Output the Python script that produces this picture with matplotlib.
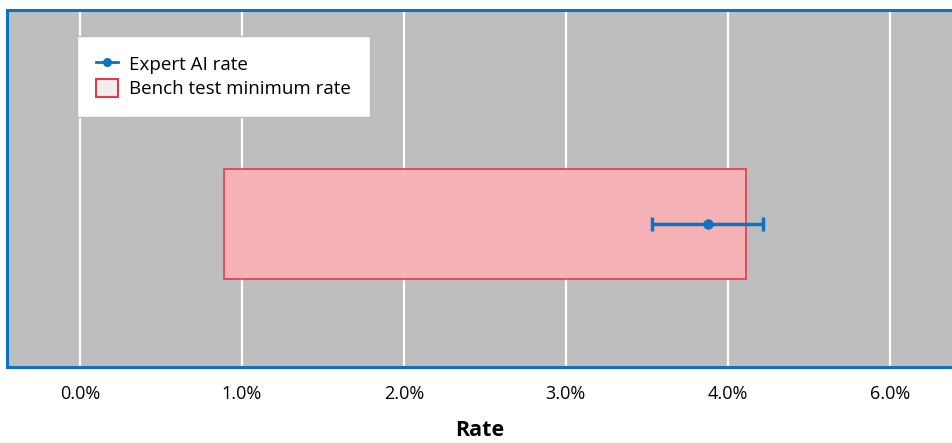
import numpy as np
import matplotlib.pyplot as plt
from matplotlib.patches import Patch
from matplotlib.lines import Line2D

# data (rates in %)
bench_min = 0.89
bench_max = 4.11
expert_rate = 3.88
expert_low = 3.53
expert_high = 4.22
tick_values = [0, 1, 2, 3, 4, 5]
tick_labels = ["0.0%", "1.0%", "2.0%", "3.0%", "4.0%", "6.0%"]

blue = "#0a74c2"
plt.rcParams['font.family'] = ['Open Sans', 'DejaVu Sans']

fig = plt.figure(figsize=(9.53, 4.43), dpi=100)
ax = fig.add_axes([0.0073, 0.1716, 0.9927, 0.806])
ax.set_facecolor("#bebebe")

ax.barh(0, bench_max - bench_min, left=bench_min, height=0.77,
        color="#f5b2b6", edgecolor="#e8394a", linewidth=1.2, zorder=3)
ax.errorbar([expert_rate], [0],
            xerr=[[expert_rate - expert_low], [expert_high - expert_rate]],
            fmt='o', color=blue, ms=6.5, elinewidth=2.5, capsize=5, capthick=2.5,
            zorder=4)

ax.set_xlim(-0.45, 5.39)
ax.set_ylim(-1, 1.5)
ax.set_xticks(tick_values)
ax.set_xticklabels(tick_labels, fontsize=13)
ax.set_yticks([])
ax.tick_params(axis='x', length=0, pad=13)
ax.grid(axis='x', color='white', linewidth=1.6, zorder=1)
ax.set_axisbelow(True)
for s in ax.spines.values():
    s.set_color(blue)
    s.set_linewidth(2.2)
ax.spines['right'].set_visible(False)

ax.set_xlabel("Rate", fontsize=15.5, fontweight='bold', labelpad=12)

handles = [Line2D([0], [0], color=blue, marker='o', ms=5.5, lw=2),
           Patch(facecolor="#eeeeee", edgecolor="#e8394a", linewidth=1.5)]
leg = ax.legend(handles, ["Expert AI rate", "Bench test minimum rate"],
                loc='upper left', bbox_to_anchor=(0.074, 0.927),
                borderaxespad=0, fontsize=13.5, fancybox=False, framealpha=1,
                edgecolor="#bbbbbb", handlelength=1.2, handleheight=1.1,
                borderpad=1.0, labelspacing=0.25, handletextpad=0.6)
leg.get_frame().set_linewidth(1)

fig.savefig("out.png", dpi=100)
